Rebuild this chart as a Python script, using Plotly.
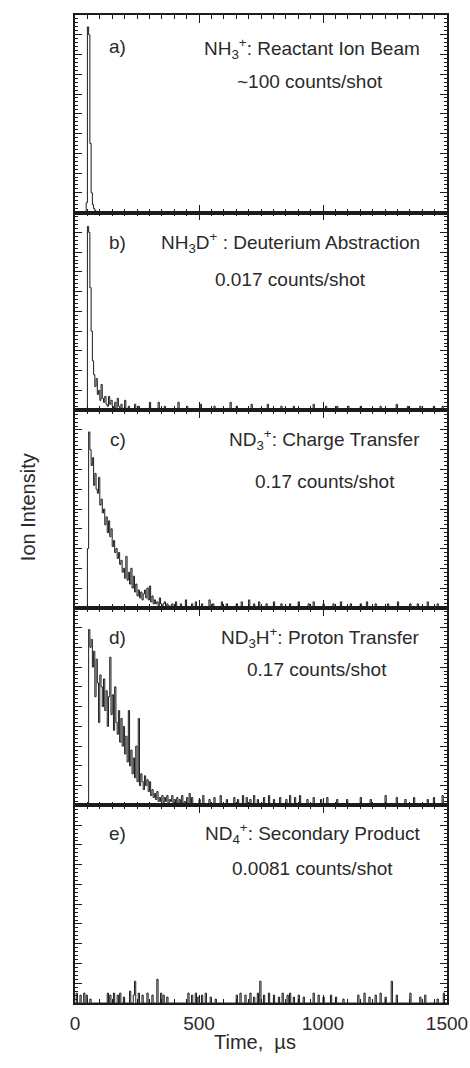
import numpy as np
import plotly.graph_objects as go
from plotly.subplots import make_subplots

# ---------------- data ----------------
BIN_US = 5
T_MAX = 1500

# a) NH3+ reactant ion beam
a_start = 40
a_vals = [0.0, 0.05, 0.94, 0.90, 0.35, 0.10, 0.04, 0.02, 0.01, 0.0]
a_spike_t = []
a_spike_h = []

# b) NH3D+ deuterium abstraction
b_start = 45
b_vals = [0.0, 0.93, 0.90, 0.62, 0.40, 0.25, 0.18, 0.12, 0.16, 0.08, 0.10, 0.05,
          0.13, 0.06, 0.04, 0.07, 0.03, 0.02, 0.07, 0.03, 0.05, 0.02, 0.01, 0.04,
          0.0, 0.06, 0.02, 0.0, 0.03, 0.01]
b_spike_t = [200, 215, 240, 255, 300, 335, 360, 415, 450, 505, 560, 625, 650, 710,
             775, 830, 880, 960, 1010, 1055, 1100, 1150, 1230, 1295, 1340, 1390, 1445, 1480]
b_spike_h = [0.05, 0.02, 0.03, 0.02, 0.04, 0.04, 0.02, 0.04, 0.02, 0.03, 0.02, 0.04,
             0.02, 0.03, 0.03, 0.02, 0.02, 0.03, 0.02, 0.02, 0.02, 0.02, 0.02, 0.03,
             0.02, 0.02, 0.02, 0.02]

# c) ND3+ charge transfer
c_start = 45
c_vals = [0.0, 0.30, 0.89, 0.80, 0.72, 0.76, 0.62, 0.68, 0.60, 0.58, 0.66, 0.52,
          0.55, 0.48, 0.50, 0.42, 0.46, 0.38, 0.44, 0.36, 0.40, 0.31, 0.34, 0.28,
          0.30, 0.25, 0.28, 0.22, 0.24, 0.18, 0.20, 0.15, 0.26, 0.14, 0.18, 0.12,
          0.20, 0.10, 0.16, 0.08, 0.12, 0.06, 0.09, 0.05, 0.08, 0.04, 0.07, 0.09,
          0.05, 0.10, 0.04, 0.11, 0.03, 0.06, 0.02, 0.04, 0.02, 0.03, 0.01, 0.05,
          0.02, 0.01, 0.02, 0.03, 0.0, 0.02, 0.01, 0.0, 0.01, 0.02, 0.0]
c_spike_t = [405, 425, 445, 470, 485, 510, 540, 555, 590, 610, 650, 670, 700, 720,
             740, 770, 800, 830, 865, 900, 940, 960, 1000, 1040, 1070, 1110, 1150,
             1175, 1210, 1260, 1300, 1350, 1380, 1420, 1460]
c_spike_h = [0.03, 0.02, 0.04, 0.02, 0.03, 0.02, 0.04, 0.02, 0.03, 0.02, 0.02, 0.03,
             0.04, 0.02, 0.03, 0.02, 0.03, 0.02, 0.02, 0.03, 0.02, 0.03, 0.02, 0.02,
             0.03, 0.02, 0.02, 0.03, 0.02, 0.02, 0.03, 0.02, 0.02, 0.03, 0.02]

# d) ND3H+ proton transfer
d_start = 50
d_vals = [0.0, 0.89, 0.80, 0.84, 0.70, 0.78, 0.55, 0.74, 0.62, 0.42, 0.66, 0.60,
          0.50, 0.64, 0.48, 0.58, 0.40, 0.55, 0.75, 0.46, 0.56, 0.38, 0.60, 0.42,
          0.36, 0.48, 0.32, 0.44, 0.30, 0.40, 0.26, 0.35, 0.22, 0.48, 0.20, 0.28,
          0.16, 0.24, 0.14, 0.30, 0.12, 0.44, 0.10, 0.16, 0.12, 0.08, 0.15, 0.10,
          0.13, 0.07, 0.12, 0.05, 0.08, 0.04, 0.06, 0.03, 0.07, 0.02, 0.04, 0.02,
          0.05, 0.01, 0.04, 0.02, 0.05, 0.01, 0.03, 0.02, 0.05, 0.01, 0.03, 0.0,
          0.04, 0.01, 0.03, 0.0, 0.05, 0.0, 0.02, 0.0, 0.04, 0.0, 0.06]
d_spike_t = [470, 500, 515, 540, 560, 585, 612, 640, 655, 673, 690, 706, 720, 733,
             760, 780, 800, 827, 850, 867, 887, 907, 934, 961, 990, 1015, 1054, 1095,
             1149, 1189, 1250, 1297, 1330, 1364, 1418, 1445, 1480]
d_spike_h = [0.04, 0.03, 0.05, 0.03, 0.04, 0.05, 0.03, 0.04, 0.03, 0.05, 0.04, 0.03,
             0.05, 0.03, 0.04, 0.05, 0.03, 0.04, 0.03, 0.05, 0.04, 0.05, 0.03, 0.04,
             0.03, 0.04, 0.03, 0.03, 0.04, 0.03, 0.05, 0.04, 0.03, 0.04, 0.03, 0.04, 0.05]

# e) ND4+ secondary product
e_start = 0
e_vals = []
e_spike_t = [5, 20, 35, 45, 60, 130, 140, 155, 170, 180, 195, 220, 235, 240, 255,
             270, 290, 310, 330, 345, 355, 370, 455, 470, 485, 495, 510, 525, 545,
             565, 650, 665, 685, 705, 720, 735, 745, 760, 780, 800, 820, 835, 855,
             865, 880, 900, 920, 960, 980, 1000, 1030, 1050, 1080, 1140, 1165, 1185,
             1210, 1230, 1250, 1275, 1295, 1350, 1390, 1410, 1460, 1485]
e_spike_h = [0.05, 0.04, 0.05, 0.04, 0.02, 0.05, 0.04, 0.05, 0.04, 0.05, 0.03, 0.06,
             0.04, 0.11, 0.05, 0.04, 0.05, 0.04, 0.12, 0.05, 0.04, 0.03, 0.05, 0.04,
             0.05, 0.03, 0.04, 0.05, 0.03, 0.02, 0.04, 0.05, 0.04, 0.05, 0.03, 0.05,
             0.11, 0.04, 0.05, 0.04, 0.03, 0.05, 0.04, 0.05, 0.03, 0.04, 0.03, 0.05,
             0.04, 0.03, 0.04, 0.03, 0.02, 0.04, 0.05, 0.03, 0.04, 0.05, 0.03, 0.11,
             0.04, 0.05, 0.03, 0.04, 0.02, 0.05]

labels = ["a)", "b)", "c)", "d)", "e)"]
titles = ["NH<sub>3</sub><sup>+</sup>: Reactant Ion Beam",
          "NH<sub>3</sub>D<sup>+</sup> : Deuterium Abstraction",
          "ND<sub>3</sub><sup>+</sup>: Charge Transfer",
          "ND<sub>3</sub>H<sup>+</sup>: Proton Transfer",
          "ND<sub>4</sub><sup>+</sup>: Secondary Product"]
rates = ["~100 counts/shot", "0.017 counts/shot", "0.17 counts/shot",
         "0.17 counts/shot", "0.0081 counts/shot"]

panels = [(a_start, a_vals, a_spike_t, a_spike_h),
          (b_start, b_vals, b_spike_t, b_spike_h),
          (c_start, c_vals, c_spike_t, c_spike_h),
          (d_start, d_vals, d_spike_t, d_spike_h),
          (e_start, e_vals, e_spike_t, e_spike_h)]

# ---------------- build figure ----------------
edges = np.arange(0, T_MAX + BIN_US, BIN_US)


def histogram(start, vals, spike_t, spike_h):
    h = np.zeros(len(edges))
    i0 = start // BIN_US
    h[i0:i0 + len(vals)] = vals
    for t, v in zip(spike_t, spike_h):
        h[int(round(t / BIN_US))] = v
    return h


FONT = "Liberation Sans, Arial, Helvetica, sans-serif"
INK = "#1c1c1c"
TXT = "#2a2a2a"

fig = make_subplots(rows=5, cols=1, shared_xaxes=True, vertical_spacing=0)

for k, p in enumerate(panels):
    fig.add_trace(go.Scatter(x=edges, y=histogram(*p), mode="lines",
                             line=dict(color=INK, width=1.0, shape="hv"),
                             showlegend=False, hoverinfo="skip"),
                  row=k + 1, col=1)

# per-panel annotation placement (x in data units, y in axis-domain units)
label_x = [173, 173, 173, 173, 173]
label_y = [0.84, 0.85, 0.85, 0.85, 0.86]
title_y = [0.83, 0.85, 0.85, 0.85, 0.86]
rate_x = [948, 867, 1008, 976, 956]
rate_y = [0.665, 0.66, 0.64, 0.69, 0.68]

for k in range(5):
    xr = "x" if k == 0 else f"x{k + 1}"
    yr = ("y" if k == 0 else f"y{k + 1}") + " domain"
    fig.add_annotation(x=label_x[k], y=label_y[k], xref=xr, yref=yr, text=labels[k],
                       showarrow=False, xanchor="center", yanchor="middle",
                       font=dict(family=FONT, size=19, color=TXT))
    fig.add_annotation(x=1399, y=title_y[k], xref=xr, yref=yr, text=titles[k],
                       showarrow=False, xanchor="right", yanchor="middle",
                       font=dict(family=FONT, size=19, color=TXT))
    fig.add_annotation(x=rate_x[k], y=rate_y[k], xref=xr, yref=yr, text=rates[k],
                       showarrow=False, xanchor="center", yanchor="middle",
                       font=dict(family=FONT, size=19, color=TXT))

fig.update_xaxes(range=[0, T_MAX], tickmode="linear", tick0=0, dtick=500,
                 ticks="inside", ticklen=8, tickwidth=1.3, tickcolor=INK,
                 mirror="ticks", showline=True, linecolor=INK, linewidth=1.6,
                 showgrid=False, zeroline=False, automargin=False,
                 minor=dict(dtick=50, ticks="inside", ticklen=4, tickwidth=1.1,
                            tickcolor=INK, showgrid=False),
                 showticklabels=False, ticklabelstandoff=2,
                 tickfont=dict(family=FONT, size=19, color=TXT))
fig.update_xaxes(showticklabels=True, row=5, col=1)

fig.update_yaxes(range=[0, 1], tickmode="linear", tick0=0, dtick=0.1,
                 ticks="inside", ticklen=7, tickwidth=1.2, automargin=False,
                 tickcolor=INK, mirror="ticks", showline=True, linecolor=INK,
                 linewidth=1.6, showgrid=False, zeroline=False, showticklabels=False,
                 minor=dict(dtick=0.02, ticks="inside", ticklen=3, tickwidth=1,
                            tickcolor=INK, showgrid=False))

# axis titles
fig.add_annotation(x=-0.126, y=0.502, xref="paper", yref="paper", text="Ion Intensity",
                   textangle=-90, showarrow=False, xanchor="center", yanchor="middle",
                   font=dict(family=FONT, size=20, color=TXT))
fig.add_annotation(x=0.484, y=-0.0395, xref="paper", yref="paper", text="Time,  µs",
                   showarrow=False, xanchor="center", yanchor="middle",
                   font=dict(family=FONT, size=20, color=TXT))

fig.update_layout(width=470, height=1068, margin=dict(l=75, r=23, t=15, b=65),
                  paper_bgcolor="white", plot_bgcolor="white",
                  font=dict(family=FONT, color=TXT))

fig.write_html("out.html", config={"displayModeBar": False},
               post_script="document.body.style.margin='0';document.body.style.overflow='hidden';")
